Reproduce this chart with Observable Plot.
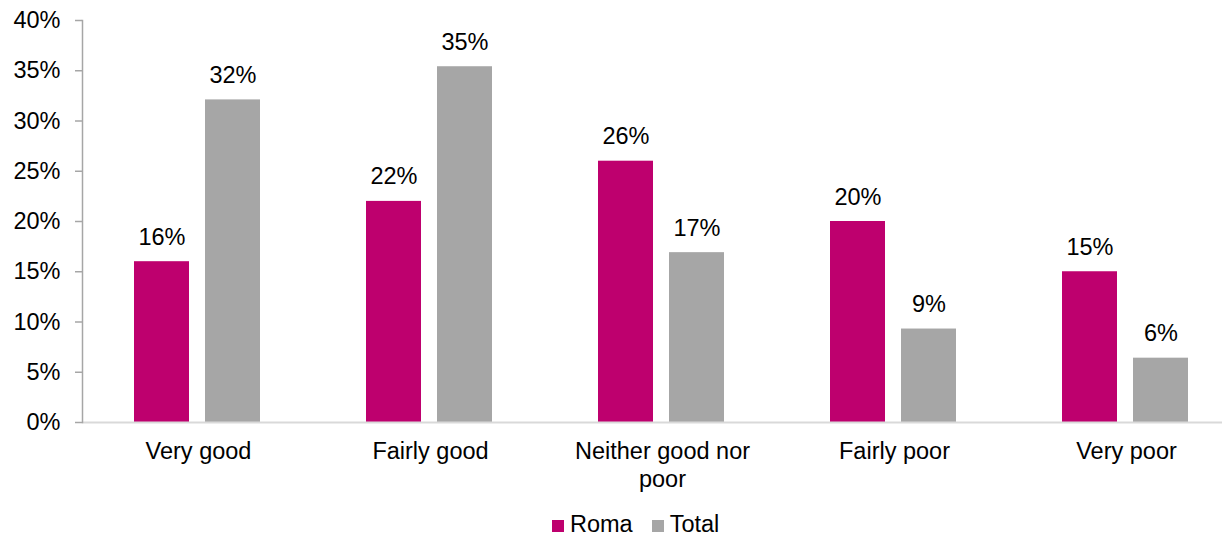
<!DOCTYPE html>
<html>
<head>
<meta charset="utf-8">
<script src="https://cdn.jsdelivr.net/npm/d3@7"></script>
<script src="https://cdn.jsdelivr.net/npm/@observablehq/plot@0.6"></script>
<style>
  html, body { margin: 0; padding: 0; background: #fff; }
  #wrap { position: relative; width: 1222px; height: 538px; overflow: hidden; font-family: "Liberation Sans", Arial, sans-serif; }
  #legend { position: absolute; left: 552px; top: 511px; font-size: 23.5px; line-height: 27px; color: #000; white-space: nowrap; }
  #legend .sw { display: inline-block; width: 12px; height: 12px; vertical-align: baseline; margin-right: 6px; }
  #legend .item { display: inline-block; }
</style>
</head>
<body>
<div id="wrap"><div id="chart"></div><div id="legend"></div></div>
<script>
const categories = ["Very good", "Fairly good", "Neither good nor poor", "Fairly poor", "Very poor"];
const tickLabels = ["Very good", "Fairly good", "Neither good nor\npoor", "Fairly poor", "Very poor"];
const seriesNames = ["Roma", "Total"];
const seriesColors = ["#BE006E", "#A6A6A6"];
const romaValues = [16, 22, 26, 20, 15];
const totalValues = [32.1, 35.4, 16.9, 9.3, 6.4];
const yTicks = [0, 5, 10, 15, 20, 25, 30, 35, 40];

const data = [];
categories.forEach((c, i) => {
  data.push({category: c, series: "Roma", value: romaValues[i]});
  data.push({category: c, series: "Total", value: totalValues[i]});
});

const font = "Liberation Sans, Arial, sans-serif";
const ml = 81;

const chart = Plot.plot({
  width: 1222,
  height: 505,
  marginTop: 20,
  marginBottom: 83,
  marginLeft: ml,
  marginRight: 0,
  style: {fontFamily: font, fontSize: "23.5px", color: "#000", background: "#fff", overflow: "visible"},
  fx: {domain: categories, range: [ml, ml + 5 * 232.5], paddingInner: 0, paddingOuter: 0, axis: null, label: null},
  x: {domain: seriesNames, range: [ml - 1.5, ml + 231], paddingInner: 16 / 72, paddingOuter: 0.7257, axis: null},
  y: {domain: [0, 40], axis: null, label: null},
  color: {domain: seriesNames, range: seriesColors},
  marks: [
    Plot.barY(data, {fx: "category", x: "series", y: "value", fill: "series"}),
    Plot.ruleY([0], {stroke: "#d9d9d9", strokeWidth: 2}),
    Plot.frame({anchor: "left", facetAnchor: "left", stroke: "#a6a6a6", strokeWidth: 1.5}),
    Plot.text(data, {fx: "category", x: "series", y: "value", text: d => Math.round(d.value) + "%", dy: -17, lineAnchor: "bottom", fill: "#000", fontSize: 23.5}),
    Plot.axisY({ticks: yTicks, tickFormat: d => d + "%", tickSize: 7, tickPadding: 15, stroke: "#a6a6a6", strokeWidth: 1.5, fill: "#000", label: null, fontSize: 23.5}),
    Plot.axisFx({anchor: "bottom", tickSize: 0, tickPadding: 16, tickFormat: d => tickLabels[categories.indexOf(d)], lineHeight: 1.2, label: null, fill: "#000", fontSize: 23.5})
  ]
});
document.getElementById("chart").appendChild(chart);

const legend = document.getElementById("legend");
seriesNames.forEach((s, i) => {
  const item = document.createElement("span");
  item.className = "item";
  if (i > 0) item.style.marginLeft = "19px";
  const sw = document.createElement("span");
  sw.className = "sw";
  sw.style.background = seriesColors[i];
  item.appendChild(sw);
  item.appendChild(document.createTextNode(s));
  legend.appendChild(item);
});
</script>
</body>
</html>
